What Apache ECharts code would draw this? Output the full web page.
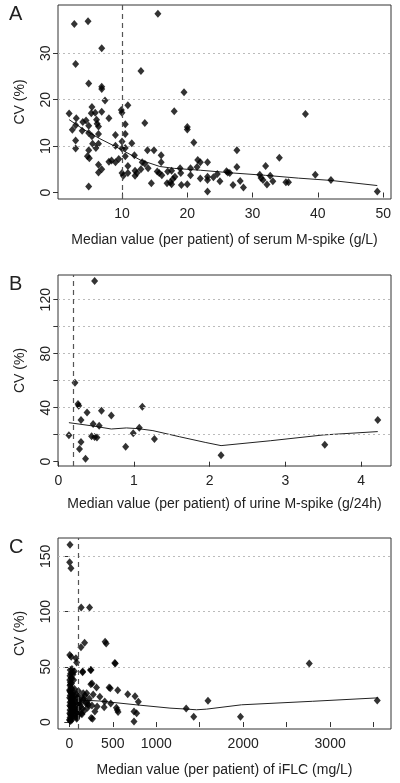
<!DOCTYPE html>
<html><head><meta charset="utf-8">
<script src="https://cdn.jsdelivr.net/npm/echarts@6/dist/echarts.min.js"></script>
<style>html,body{margin:0;padding:0;background:#fff}#c{width:400px;height:783px}</style>
</head><body><div id="c"></div>
<script>
// ---- Panel A: serum M-spike ----
const serumX = [1.9,2.7,2.9,2.4,3.0,2.9,2.9,2.9,4.0,3.9,4.5,4.8,4.9,4.9,4.9,4.7,5.0,4.9,4.9,5.4,5.3,5.4,5.5,5.9,6.1,6.2,6.4,6.0,6.4,6.4,6.4,6.4,6.9,6.9,6.9,6.9,6.9,7.4,8.0,8.0,8.4,9.0,9.0,9.0,9.5,9.9,10.0,10.0,10.0,10.0,10.2,10.5,10.5,10.5,10.5,10.9,10.9,10.9,11.5,11.9,12.0,12.0,12.3,12.9,12.9,13.1,13.5,13.5,13.9,14.0,14.5,14.9,15.5,15.4,16.0,16.0,15.7,16.1,17.0,16.9,17.4,17.6,18.0,17.8,18.1,17.6,18.9,19.0,19.1,19.5,20.0,20.0,20.0,20.5,20.5,21.0,21.5,21.6,22.0,22.0,23.1,23.1,23.1,23.1,24.0,24.6,25.0,26.0,26.2,26.5,27.0,27.6,27.6,28.1,28.6,31.1,31.3,31.6,32.0,32.2,32.7,33.1,34.1,35.1,35.5,38.1,39.6,42.0,49.1];
const serumCV = [17.0,36.3,27.7,13.5,16.0,14.5,11.2,9.5,15.2,13.3,15.5,36.9,23.5,14.4,12.8,7.8,7.4,9.1,1.3,18.4,17.1,12.1,10.5,17.2,15.7,14.8,14.2,9.6,12.6,10.5,6.0,4.3,31.1,22.8,22.3,17.4,5.0,19.8,16.0,6.6,6.9,12.4,10.1,6.5,7.2,17.8,17.2,11.0,9.5,4.2,3.6,9.6,14.7,12.6,7.8,18.8,5.7,4.2,10.6,8.0,4.7,3.6,4.2,26.2,5.0,6.5,15.0,6.2,9.1,5.2,2.0,9.1,38.5,4.5,8.0,6.5,4.2,3.7,4.5,2.0,2.2,4.7,17.5,2.9,3.4,1.8,5.2,4.2,1.6,21.6,14.1,13.6,1.8,5.2,3.7,10.8,5.5,7.0,6.5,3.0,6.5,3.4,2.7,0.2,3.3,4.0,2.4,4.6,4.3,4.2,1.6,9.1,5.5,2.5,1.1,3.8,3.1,2.7,5.7,1.7,3.6,2.4,7.5,2.2,2.2,16.9,3.8,2.7,0.2];
const serumFitX = [1.9,4.0,6.6,9.7,12.8,15.8,18,22,27,32,37,42,49.1];
const serumFitY = [15.7,13.7,11.6,9.4,7.0,5.6,5.2,4.8,4.2,3.7,3.1,2.6,1.5];

// ---- Panel B: urine M-spike ----
const urineX = [0.48,0.22,0.26,0.27,0.30,0.38,0.57,0.70,0.46,0.54,0.44,0.48,0.51,0.14,0.30,0.28,0.36,0.89,0.99,1.07,1.11,1.27,2.15,3.52,4.22];
const urineCV = [133.8,58.5,42.7,41.5,30.9,36.5,37.8,34.3,27.9,26.7,18.8,18.3,18.0,19.5,14.6,9.4,2.2,11.1,21.0,25.2,40.7,16.8,4.7,12.6,30.9];
const urineFitX = [0.14,0.45,0.7,0.9,1.05,1.25,1.6,1.94,2.15,2.8,3.5,4.22];
const urineFitY = [28.9,26.5,24.2,25.0,24.5,23.0,18.5,14.3,11.9,15.5,19.8,22.3];

// ---- Panel C: iFLC ----
const flcX = [8,4,19,137,233,176,134,412,424,153,244,523,2760,5,22,76,84,248,313,458,557,672,756,794,200,160,275,351,408,477,401,542,552,561,252,267,744,744,775,1344,1431,1595,1969,3542,206,218,320,294,154,250,261,471,529,
  10,15,8,20,5,12,25,8,18,30,6,14,22,35,10,4,16,28,40,9,20,50,6,13,24,35,8,18,45,5,12,26,38,9,19,30,7,15,60,70,80,90,65,55,75,85,95,110,120,130,150,170,140,100,60,50,40,30,25,35,45,55,65,75,85,100,115,125,160,190,210,180,230,260,3,12,28,42,58,18,33,48,2,22,38,52,68,88,105,118,145,165];
const flcCV = [160.4,144.7,139.3,103.6,103.6,71.8,67.6,72.7,71.2,45,47.1,53.5,52.9,60.7,59.2,57.7,53.8,34.2,31.2,31.2,28.8,25.2,23.4,18.3,26,26,25,23,18.6,16.8,13.5,13,11,9,3.6,3,0.6,9.6,8,12.3,4.8,19.2,4.8,19.5,17,15.6,14,9.6,45.7,47,35,30.7,53,
  47,44,42,40,38,36,35,33,31,30,28,27,26,25,24,22,21,20,19,18,17,16,15,14,13,12,11,10,9,8,7,6,5,4,3,2,1.5,1,20,18,15,12,10,7,5,25,22,19,16,14,12,10,8,6,30,38,45,48,15,22,27,13,24,9,3,12,8,22,20,17,13,24,21,15,29,34,39,43,46,6,9,12,2,19,23,16,11,4,28,18,7,21];
const flcFitX = [5,115,350,767,1158,1350,1464,1580,1981,2800,3552];
const flcFitY = [22.0,20.1,19.0,15.6,12.6,11.7,11.1,11.7,15.6,18.8,21.9];

const zip = (a, b) => a.map((v, i) => [v, b[i]]);

const FONT = 'Liberation Sans, Arial, sans-serif';
const TXT = '#222';

const panels = [
  {letter:'A', top:5, height:194, xmin:0.2, xmax:51.2, ymin:-1.4, ymax:40.4,
   xLabels:[10,20,30,40,50], xTicks:[10,20,30,40,50], yLabels:[0,10,20,30], yTicks:[0,10,20,30], yGrid:[10,20,30], vline:10,
   xname:'Median value (per patient) of serum M-spike (g/L)', xgap:34, pts:zip(serumX, serumCV), fit:zip(serumFitX, serumFitY)},
  {letter:'B', top:275, height:191, xmin:-0.004, xmax:4.395, ymin:-3.2, ymax:138.3,
   xLabels:[0,1,2,3,4], xTicks:[0,1,2,3,4], yLabels:[0,40,80,120], yTicks:[0,20,40,60,80,100,120], yGrid:[20,40,60,80,100,120], vline:0.2,
   xname:'Median value (per patient) of urine M-spike (g/24h)', xgap:31, pts:zip(urineX, urineCV), fit:zip(urineFitX, urineFitY)},
  {letter:'C', top:538, height:191, xmin:-130, xmax:3700, ymin:-6.3, ymax:166.6,
   xLabels:[0,500,1000,2000,3000], xTicks:[0,500,1000,1500,2000,2500,3000,3500], yLabels:[0,50,100,150], yTicks:[0,50,100,150], yGrid:[50,100,150], vline:100,
   xname:'Median value (per patient) of iFLC (mg/L)', xgap:34, pts:zip(flcX, flcCV), fit:zip(flcFitX, flcFitY)}
];

const grid = [], xAxis = [], yAxis = [], series = [], graphic = [];
panels.forEach((p, i) => {
  grid.push({left:58, right:9, top:p.top, height:p.height, show:true, borderColor:'#333', borderWidth:1, backgroundColor:'transparent'});
  xAxis.push({type:'value', gridIndex:i, min:p.xmin, max:p.xmax,
    axisLine:{show:false}, splitLine:{show:false},
    axisTick:{show:true, inside:false, length:5, customValues:p.xTicks, lineStyle:{color:'#333'}},
    axisLabel:{customValues:p.xLabels, formatter:v => String(v), color:TXT, fontFamily:FONT, fontSize:14, margin:8},
    name:p.xname, nameLocation:'middle', nameGap:p.xgap, nameTextStyle:{color:TXT, fontFamily:FONT, fontSize:14}});
  yAxis.push({type:'value', gridIndex:i, min:p.ymin, max:p.ymax,
    axisLine:{show:false}, splitLine:{show:false},
    axisTick:{show:true, inside:false, length:5, customValues:p.yTicks, lineStyle:{color:'#333'}},
    axisLabel:{customValues:p.yLabels, formatter:v => String(v), rotate:90, color:TXT, fontFamily:FONT, fontSize:14, margin:5},
    name:'CV (%)', nameLocation:'middle', nameRotate:90, nameGap:31, nameTextStyle:{color:TXT, fontFamily:FONT, fontSize:14}});
  series.push({type:'line', xAxisIndex:i, yAxisIndex:i, data:p.fit, showSymbol:false, symbol:'none', smooth:false,
    lineStyle:{color:'#222', width:1}, z:2, silent:true,
    markLine:{silent:true, symbol:'none', label:{show:false},
      data:[...p.yGrid.map(v => ({yAxis:v, lineStyle:{color:'#bbb', type:[2,3], width:1}})),
            {xAxis:p.vline, lineStyle:{color:'#555', type:[5,4], width:1.2}}]}});
  series.push({type:'scatter', xAxisIndex:i, yAxisIndex:i, data:p.pts, symbol:'diamond', symbolSize:[7,8],
    itemStyle:{color:'#000'}, z:3, silent:true});
  graphic.push({type:'text', left:9, top:p.top - 1, style:{text:p.letter, font:'20px ' + FONT, fill:TXT}});
});

const chart = echarts.init(document.getElementById('c'), null, {renderer:'canvas'});
chart.setOption({animation:false, grid, xAxis, yAxis, series, graphic});
</script></body></html>
